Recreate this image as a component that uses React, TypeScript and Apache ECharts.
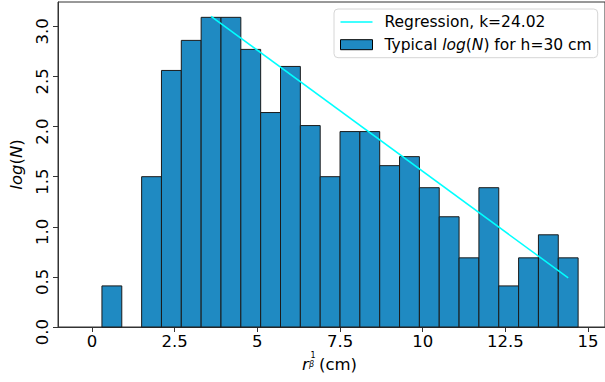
import React, { useEffect, useRef } from "react";
import * as echarts from "echarts";

const binEdges = [0.3, 0.9, 1.5, 2.1, 2.7, 3.3, 3.9, 4.5, 5.1, 5.7, 6.3, 6.9, 7.5, 8.1, 8.7, 9.3, 9.9, 10.5, 11.1, 11.7, 12.3, 12.9, 13.5, 14.1, 14.7];
const logN = [0.41, 0, 1.5, 2.56, 2.86, 3.09, 3.09, 2.77, 2.14, 2.6, 2.01, 1.5, 1.95, 1.95, 1.61, 1.7, 1.39, 1.1, 0.69, 1.39, 0.41, 0.69, 0.92, 0.69];
const regX = [3.6, 14.4];
const regY = [3.1, 0.49];
const xTicks = [0, 2.5, 5, 7.5, 10, 12.5, 15];
const yTicks = [0, 0.5, 1.0, 1.5, 2.0, 2.5, 3.0];
const regName = "Regression, k=24.02";
const histName = "Typical log(N) for h=30 cm";

const FONT = "DejaVu Sans";
const BAR = "#1f8ac2";
const TICK_FS = 16.5;
const LEG_FS = 15.5;

export default function App() {
  const ref = useRef<HTMLDivElement>(null);
  useEffect(() => {
    document.body.style.margin = "0";
    const chart = echarts.init(ref.current!, null, { renderer: "svg" });
    const histData = logN
      .map((h, i) => [binEdges[i], binEdges[i + 1], h])
      .filter((d) => d[2] > 0);
    const regData = regX.map((x, i) => [x, regY[i]]);
    chart.setOption({
      animation: false,
      textStyle: { fontFamily: FONT },
      grid: {
        left: 52,
        top: 2,
        right: -5,
        bottom: 55,
        show: true,
        borderColor: "#333",
        borderWidth: 1,
        containLabel: false,
      },
      xAxis: {
        type: "value",
        min: -1.029,
        max: 15.513,
        splitLine: { show: false },
        axisLine: { show: true, onZero: false, lineStyle: { color: "#333", width: 1 } },
        axisTick: { show: true, customValues: xTicks, length: 5, lineStyle: { color: "#333" } },
        axisLabel: {
          customValues: xTicks,
          margin: 6,
          fontSize: TICK_FS,
          fontFamily: FONT,
          color: "#000",
          formatter: (v: number) => String(v),
        },
      },
      yAxis: {
        type: "value",
        min: 0,
        max: 3.243,
        splitLine: { show: false },
        axisLine: { show: true, onZero: false, lineStyle: { color: "#333", width: 1 } },
        axisTick: { show: true, customValues: yTicks, length: 5, lineStyle: { color: "#333" } },
        axisLabel: {
          customValues: yTicks,
          rotate: 90,
          margin: 7,
          padding: [0, 10, 0, 0],
          fontSize: TICK_FS,
          fontFamily: FONT,
          color: "#000",
          formatter: (v: number) => v.toFixed(1),
        },
        name: "{i|log}{n|(}{i|N}{n|)}",
        nameLocation: "middle",
        nameRotate: 90,
        nameGap: 33,
        nameTextStyle: {
          rich: {
            i: { fontSize: 16.5, fontStyle: "italic", fontFamily: FONT, color: "#000" },
            n: { fontSize: 16.5, fontFamily: FONT, color: "#000" },
          },
        },
      },
      legend: {
        orient: "vertical",
        left: 334,
        top: 9,
        padding: [5, 6, 5, 6],
        itemGap: 6.7,
        itemWidth: 32,
        itemHeight: 10,
        symbolKeepAspect: true,
        borderColor: "#d6d6d6",
        borderWidth: 1,
        borderRadius: 4,
        backgroundColor: "#fff",
        textStyle: {
          fontFamily: FONT,
          fontSize: LEG_FS,
          color: "#000",
          rich: {
            s: { width: 7, height: 18 },
            a: { fontSize: LEG_FS, fontFamily: FONT, color: "#000", lineHeight: 18 },
            i: { fontSize: LEG_FS, fontFamily: FONT, color: "#000", fontStyle: "italic", lineHeight: 18 },
          },
        },
        formatter: (name: string) =>
          name === histName
            ? "{s|}{a|Typical }{i|log}{a|(}{i|N}{a|) for h=30 cm}"
            : "{s|}{a|" + name + "}",
        data: [
          {
            name: regName,
            icon: "path://M0,0H32V1.5H0Z",
            itemStyle: { color: "#00ffff", borderWidth: 0 },
          },
          { name: histName, icon: "rect", itemStyle: { color: BAR, borderColor: "#000", borderWidth: 1 } },
        ],
      },
      graphic: [
        {
          type: "group",
          left: 302,
          top: 351,
          children: [
            { type: "text", x: 0, y: 5, style: { text: "r", fontSize: 16.5, fontStyle: "italic", fontFamily: FONT, fill: "#000" } },
            { type: "text", x: 8.5, y: 0, style: { text: "1", fontSize: 8, fontFamily: FONT, fill: "#000" } },
            { type: "text", x: 7, y: 9, style: { text: "β", fontSize: 8, fontStyle: "italic", fontFamily: FONT, fill: "#000" } },
            { type: "text", x: 17, y: 5, style: { text: "(cm)", fontSize: 16.5, fontFamily: FONT, fill: "#000" } },
          ],
        },
      ],
      series: [
        {
          name: histName,
          type: "custom",
          data: histData,
          encode: { x: [0, 1], y: 2 },
          itemStyle: { color: BAR, borderColor: "#000", borderWidth: 1 },
          renderItem: (params: any, api: any) => {
            const p0 = api.coord([api.value(0), api.value(2)]);
            const p1 = api.coord([api.value(1), 0]);
            return {
              type: "rect",
              shape: { x: p0[0], y: p0[1], width: p1[0] - p0[0], height: p1[1] - p0[1] },
              style: { fill: BAR, stroke: "#1a1a1a", lineWidth: 1 },
            };
          },
          z: 2,
        },
        {
          name: regName,
          type: "line",
          data: regData,
          symbol: "none",
          lineStyle: { color: "#00ffff", width: 1.5 },
          itemStyle: { color: "#00ffff" },
          z: 3,
        },
      ],
    });
    return () => chart.dispose();
  }, []);
  return <div ref={ref} style={{ width: 605, height: 382 }} />;
}
